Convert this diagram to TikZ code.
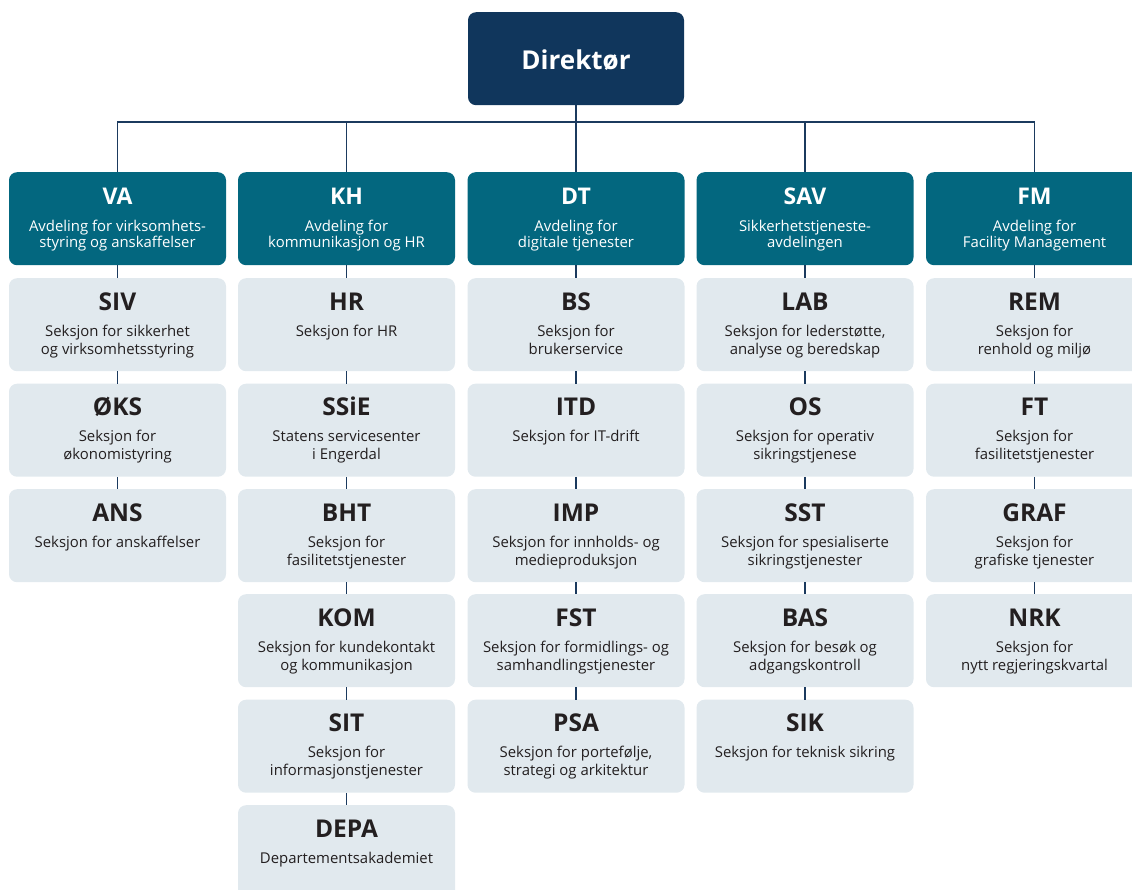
\documentclass[tikz,border=0pt]{standalone}
\usepackage{fontspec}
\setmainfont{Open Sans}
\definecolor{dirblue}{HTML}{10365C}
\definecolor{depteal}{HTML}{03677F}
\definecolor{seclight}{HTML}{E1E9EE}
\definecolor{linecol}{HTML}{1B3A5E}
\definecolor{txtdark}{HTML}{231F20}
\tikzset{
  dirbox/.style={fill=dirblue, rounded corners=8pt, minimum width=216pt, minimum height=93pt, inner sep=0pt},
  deptbox/.style={fill=depteal, rounded corners=8pt, minimum width=217pt, minimum height=93pt, inner sep=0pt},
  secbox/.style={fill=seclight, rounded corners=8pt, minimum width=217pt, minimum height=93pt, inner sep=0pt},
  depttitle/.style={text=white, font=\bfseries\fontsize{23}{26}\selectfont, anchor=base, inner sep=0pt},
  deptbody/.style={text=white, font=\fontsize{14.9}{17}\selectfont, anchor=base, inner sep=0pt},
  sectitle/.style={text=txtdark, font=\bfseries\fontsize{24.5}{28}\selectfont, anchor=base, inner sep=0pt},
  secbody/.style={text=txtdark, font=\fontsize{14.9}{18}\selectfont, anchor=base, inner sep=0pt},
  conn/.style={draw=linecol, line width=1.3pt}
}
% #1 box kind (dept/sec), #2 name, #3 x, #4 y (top), #5 title, #6 line1, #7 line2
\newcommand\orgbox[7]{%
  \node[#1box, anchor=north] (#2) at (#3,#4) {};
  \node[#1title] (#2-t) at ([yshift=-32pt]#2.north) {#5};
  \node[#1body] (#2-a) at ([yshift=-\csname #1ya\endcsname]#2.north) {#6};
  \node[#1body] (#2-b) at ([yshift=-\csname #1yb\endcsname]#2.north) {#7};
}
\newcommand\deptya{59pt}
\newcommand\deptyb{75.5pt}
\newcommand\secya{58pt}
\newcommand\secyb{76pt}
\begin{document}
\begin{tikzpicture}[x=1pt,y=-1pt]
\useasboundingbox (0,0) rectangle (1132,889);
% director
\node[dirbox, anchor=north] (dir) at (576,12) {};
\node[text=white, font=\bfseries\fontsize{26}{30}\selectfont, anchor=base, inner sep=0pt] (dir-t) at ([yshift=-57.5pt]dir.north) {Direktør};
\coordinate (bus) at (576,122);
% departments
\orgbox{dept}{va}{117.5}{172}{VA}{Avdeling for virksomhets-}{styring og anskaffelser}
\orgbox{dept}{kh}{346.5}{172}{KH}{Avdeling for}{kommunikasjon og HR}
\orgbox{dept}{dt}{576}{172}{DT}{Avdeling for}{digitale tjenester}
\orgbox{dept}{sav}{805}{172}{SAV}{Sikkerhetstjeneste-}{avdelingen}
\orgbox{dept}{fm}{1034.5}{172}{FM}{Avdeling for}{Facility Management}
% VA sections
\orgbox{sec}{siv}{117.5}{278}{SIV}{Seksjon for sikkerhet}{og virksomhetsstyring}
\orgbox{sec}{oks}{117.5}{383.5}{ØKS}{Seksjon for}{økonomistyring}
\orgbox{sec}{ans}{117.5}{489}{ANS}{Seksjon for anskaffelser}{}
% KH sections
\orgbox{sec}{hr}{346.5}{278}{HR}{Seksjon for HR}{}
\orgbox{sec}{ssie}{346.5}{383.5}{SSiE}{Statens servicesenter}{i Engerdal}
\orgbox{sec}{bht}{346.5}{489}{BHT}{Seksjon for}{fasilitetstjenester}
\orgbox{sec}{kom}{346.5}{594}{KOM}{Seksjon for kundekontakt}{og kommunikasjon}
\orgbox{sec}{sit}{346.5}{699.5}{SIT}{Seksjon for}{informasjonstjenester}
\orgbox{sec}{depa}{346.5}{805}{DEPA}{Departementsakademiet}{}
% DT sections
\orgbox{sec}{bs}{576}{278}{BS}{Seksjon for}{brukerservice}
\orgbox{sec}{itd}{576}{383.5}{ITD}{Seksjon for IT-drift}{}
\orgbox{sec}{imp}{576}{489}{IMP}{Seksjon for innholds- og}{medieproduksjon}
\orgbox{sec}{fst}{576}{594}{FST}{Seksjon for formidlings- og}{samhandlingstjenester}
\orgbox{sec}{psa}{576}{699.5}{PSA}{Seksjon for portefølje,}{strategi og arkitektur}
% SAV sections
\orgbox{sec}{lab}{805}{278}{LAB}{Seksjon for lederstøtte,}{analyse og beredskap}
\orgbox{sec}{os}{805}{383.5}{OS}{Seksjon for operativ}{sikringstjenese}
\orgbox{sec}{sst}{805}{489}{SST}{Seksjon for spesialiserte}{sikringstjenester}
\orgbox{sec}{bas}{805}{594}{BAS}{Seksjon for besøk og}{adgangskontroll}
\orgbox{sec}{sik}{805}{699.5}{SIK}{Seksjon for teknisk sikring}{}
% FM sections
\orgbox{sec}{rem}{1034.5}{278}{REM}{Seksjon for}{renhold og miljø}
\orgbox{sec}{ft}{1034.5}{383.5}{FT}{Seksjon for}{fasilitetstjenester}
\orgbox{sec}{graf}{1034.5}{489}{GRAF}{Seksjon for}{grafiske tjenester}
\orgbox{sec}{nrk}{1034.5}{594}{NRK}{Seksjon for}{nytt regjeringskvartal}
% connectors
\draw[conn] (dir.south) -- (bus);
\foreach \d in {va,kh,dt,sav,fm} { \draw[conn] (\d.north) |- (bus); }
\draw[conn] (va.south) -- (siv.north);
\draw[conn] (siv.south) -- (oks.north);
\draw[conn] (oks.south) -- (ans.north);
\draw[conn] (kh.south) -- (hr.north);
\draw[conn] (hr.south) -- (ssie.north);
\draw[conn] (ssie.south) -- (bht.north);
\draw[conn] (bht.south) -- (kom.north);
\draw[conn] (kom.south) -- (sit.north);
\draw[conn] (sit.south) -- (depa.north);
\draw[conn] (dt.south) -- (bs.north);
\draw[conn] (bs.south) -- (itd.north);
\draw[conn] (itd.south) -- (imp.north);
\draw[conn] (imp.south) -- (fst.north);
\draw[conn] (fst.south) -- (psa.north);
\draw[conn] (sav.south) -- (lab.north);
\draw[conn] (lab.south) -- (os.north);
\draw[conn] (os.south) -- (sst.north);
\draw[conn] (sst.south) -- (bas.north);
\draw[conn] (bas.south) -- (sik.north);
\draw[conn] (fm.south) -- (rem.north);
\draw[conn] (rem.south) -- (ft.north);
\draw[conn] (ft.south) -- (graf.north);
\draw[conn] (graf.south) -- (nrk.north);
\end{tikzpicture}
\end{document}
